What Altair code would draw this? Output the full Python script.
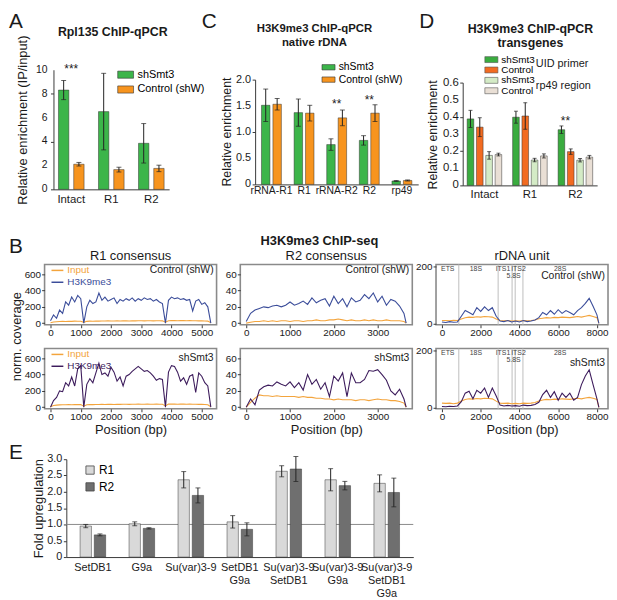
import altair as alt
import pandas as pd

FONT = "Liberation Sans"
INK = "#1a1a1a"
AXC = "#3a3a3a"
INPUT_C = "#f3a43c"

# ---------------- Panel A ----------------
a_groups = ["Intact", "R1", "R2"]
a_series = ["shSmt3", "Control (shW)"]
a_colors = ["#3cb54a", "#f7941e"]
a_shsmt3 = [8.3, 6.5, 3.85]
a_shsmt3_err = [0.8, 3.2, 1.65]
a_control = [2.1, 1.65, 1.75]
a_control_err = [0.15, 0.2, 0.27]
a_yticks = [0, 2, 4, 6, 8, 10]
a_star_group = ["Intact"]
a_star_text = ["***"]
a_star_y = [9.7]

# ---------------- Panel C ----------------
c_groups = ["rRNA-R1", "R1", "rRNA-R2", "R2", "rp49"]
c_series = ["shSmt3", "Control (shW)"]
c_colors = ["#3cb54a", "#f7941e"]
c_shsmt3 = [1.51, 1.37, 0.76, 0.84, 0.065]
c_shsmt3_err = [0.31, 0.26, 0.11, 0.09, 0.01]
c_control = [1.53, 1.36, 1.27, 1.36, 0.075]
c_control_err = [0.11, 0.15, 0.15, 0.16, 0.01]
c_yticks = [0, 0.5, 1.0, 1.5, 2.0]
c_star_group = ["rRNA-R2", "R2"]
c_star_text = ["**", "**"]
c_star_y = [1.46, 1.53]

# ---------------- Panel D ----------------
d_groups = ["Intact", "R1", "R2"]
d_series = ["shSmt3 UID", "Control UID", "shSmt3 rp49", "Control rp49"]
d_colors = ["#3aac3f", "#f26b21", "#d4ebc6", "#e9dfd5"]
d_uid_shsmt3 = [0.388, 0.398, 0.325]
d_uid_shsmt3_err = [0.05, 0.035, 0.022]
d_uid_control = [0.34, 0.405, 0.197]
d_uid_control_err = [0.055, 0.078, 0.016]
d_rp49_shsmt3 = [0.175, 0.148, 0.147]
d_rp49_shsmt3_err = [0.022, 0.01, 0.01]
d_rp49_control = [0.18, 0.172, 0.165]
d_rp49_control_err = [0.008, 0.012, 0.01]
d_yticks = [0, 0.1, 0.2, 0.3, 0.4, 0.5, 0.6]
d_star_group = ["R2"]
d_star_series = ["shSmt3 UID"]
d_star_text = ["**"]
d_star_y = [0.355]
d_legend_notes = ["UID primer", "rp49 region"]

# ---------------- Panel B (ChIP-seq coverage) ----------------
r1_pos = list(range(0, 5400, 100))
r1_ctrl_h3k9 = [30, 100, 60, 160, 120, 260, 220, 320, 260, 340, 300, 0, 200, 280, 240, 260, 370, 280,
                320, 270, 290, 310, 240, 290, 270, 300, 280, 310, 270, 300, 280, 310, 290, 300, 270,
                290, 260, 240, 0, 280, 320, 300, 310, 290, 300, 280, 290, 150, 270, 290, 230, 250, 200, 0]
r1_ctrl_input = [5, 15, 18, 20, 22, 20, 24, 22, 25, 23, 24, 10, 22, 25, 24, 26, 25, 27, 26, 28, 27, 26,
                 28, 27, 29, 28, 27, 29, 28, 30, 29, 28, 30, 29, 28, 30, 29, 28, 12, 30, 32, 31, 30, 32,
                 31, 30, 31, 29, 30, 28, 29, 27, 25, 5]
r1_sh_h3k9 = [0, 80, 120, 200, 190, 300, 260, 370, 260, 470, 510, 0, 280, 350, 300, 420, 540, 400, 420,
              380, 490, 430, 320, 370, 260, 380, 400, 440, 470, 500, 470, 440, 450, 420, 380, 330, 350,
              340, 0, 430, 510, 500, 430, 320, 360, 280, 380, 400, 180, 420, 380, 300, 260, 0]
r1_sh_input = [5, 20, 25, 28, 30, 29, 31, 30, 32, 31, 33, 12, 30, 32, 31, 33, 32, 34, 33, 35, 34, 33, 35,
               34, 36, 35, 34, 36, 35, 37, 36, 35, 37, 36, 35, 37, 36, 35, 15, 37, 38, 37, 36, 38, 37,
               36, 37, 35, 36, 34, 35, 33, 30, 5]

r2_pos = list(range(0, 3700, 100)) + [3650]
r2_ctrl_h3k9 = [2, 12, 16, 18, 20, 19, 21, 22, 20, 22, 26, 22, 24, 27, 23, 31, 25, 28, 30, 21, 33, 24,
                30, 20, 31, 26, 28, 35, 30, 37, 26, 33, 22, 29, 27, 21, 12, 0]
r2_ctrl_input = [0, 1, 2, 2, 3, 2, 3, 2, 3, 3, 2, 3, 3, 2, 3, 3, 4, 3, 3, 4, 4, 5, 4, 3, 4, 3, 3, 4, 3,
                 4, 3, 3, 4, 3, 3, 3, 2, 0]
r2_sh_h3k9 = [0, 10, 3, 21, 25, 27, 26, 31, 28, 26, 31, 24, 30, 21, 40, 28, 34, 22, 30, 13, 38, 32, 42,
              13, 42, 30, 30, 34, 45, 44, 46, 40, 33, 20, 15, 22, 10, 0]
r2_sh_input = [0, 6, 11, 15, 14, 14, 13, 14, 13, 13, 13, 13, 12, 13, 12, 12, 11, 11, 10, 10, 9, 10, 9, 9,
               9, 8, 9, 9, 8, 9, 10, 9, 9, 8, 8, 7, 5, 0]

rd_pos = list(range(0, 8200, 200)) + [8100]
rd_ctrl_h3k9 = [5, 3, 6, 4, 5, 25, 45, 38, 30, 55, 42, 58, 45, 55, 25, 8, 6, 10, 5, 8, 5, 10, 6, 8, 12,
                20, 38, 30, 45, 32, 48, 35, 45, 38, 30, 45, 55, 70, 88, 60, 30, 0]
rd_ctrl_input = [10, 10, 9, 11, 10, 15, 20, 22, 21, 23, 22, 24, 23, 22, 15, 10, 9, 10, 8, 9, 8, 10, 9,
                 10, 12, 16, 18, 20, 19, 21, 20, 22, 21, 20, 22, 24, 22, 25, 28, 24, 20, 0]
rd_sh_h3k9 = [3, 2, 4, 3, 5, 20, 50, 57, 30, 60, 50, 68, 35, 68, 40, 8, 5, 7, 5, 6, 4, 8, 6, 7, 10, 18,
              45, 60, 35, 55, 25, 50, 35, 50, 25, 35, 80, 110, 132, 80, 30, 0]
rd_sh_input = [15, 14, 15, 13, 15, 22, 28, 30, 29, 31, 30, 32, 31, 30, 22, 15, 14, 15, 13, 14, 13, 15,
               14, 15, 17, 22, 26, 28, 27, 29, 28, 30, 29, 28, 30, 32, 30, 33, 35, 32, 28, 0]

rd_bounds = [870, 2900, 3620, 3780, 4180]
rd_labels = ["ETS", "18S", "ITS1", "ITS2", "5.8S", "28S"]
rd_label_pos = [300, 1750, 3150, 3950, 3700, 6100]
rd_label_y = [190, 190, 190, 190, 165, 190]

b_tracks = ["Input", "H3K9me3"]
H3_CTRL = "#3b4d9a"
H3_SH = "#3d1c5c"

# ---------------- Panel E ----------------
e_groups = ["SetDB1", "G9a", "Su(var)3-9", "SetDB1\nG9a", "Su(var)3-9\nSetDB1",
            "Su(var)3-9\nG9a", "Su(var)3-9\nSetDB1\nG9a"]
e_series = ["R1", "R2"]
e_colors = ["#d9d9d9", "#6f6f6f"]
e_r1 = [0.95, 1.02, 2.37, 1.08, 2.63, 2.37, 2.26]
e_r1_err = [0.05, 0.06, 0.25, 0.19, 0.17, 0.34, 0.26]
e_r2 = [0.68, 0.88, 1.89, 0.85, 2.70, 2.19, 1.98]
e_r2_err = [0.03, 0.02, 0.23, 0.2, 0.38, 0.13, 0.44]
e_yticks = [0, 0.5, 1.0, 1.5, 2.0, 2.5, 3.0]
e_baseline = [1.0]

one = pd.DataFrame({"k": [0]})
TOP_H = 160


def tick_text(v):
    return "0" if v == 0 else (f"{v:.1f}" if isinstance(v, float) else str(v))


def grouped(groups, series, means, errs):
    rows = []
    for s, m_list, e_list in zip(series, means, errs):
        for g, m, e in zip(groups, m_list, e_list):
            rows.append({"group": g, "series": s, "value": m, "lo": m - e, "hi": m + e})
    return pd.DataFrame(rows)


def label(text, x, y, size, weight="normal", align="left", baseline="alphabetic",
          angle=0, color=INK, line_height=0):
    kw = dict(text=text, fontSize=size, fontWeight=weight, align=align, baseline=baseline,
              color=color, font=FONT)
    if angle:
        kw["angle"] = angle
    if line_height:
        kw["lineHeight"] = line_height
    return alt.Chart(one).mark_text(**kw).encode(x=alt.value(x), y=alt.value(y))


def y_axis(ticks, offset=0):
    return alt.Axis(values=ticks, title=None, labels=False, tickSize=3, domainColor=AXC,
                    tickColor=AXC, grid=False, offset=offset)


def x_axis(size, pad, offset=0, expr=None, lh=0):
    kw = dict(title=None, ticks=False, labelAngle=0, labelFontSize=size, labelPadding=pad,
              domainColor=AXC, labelColor=INK, labelOverlap=False, offset=offset)
    if expr:
        kw["labelExpr"] = expr
    if lh:
        kw["labelLineHeight"] = lh
    return alt.Axis(**kw)


def bar_layers(df, groups, series, colors, x_range, x_pi, x_po, off_pi, y_scale, y_ax,
               legend, cap, x_ax, ticks, tick_x, tick_size, bar_stroke="#2b2b2b"):
    x = alt.X("group:N", sort=groups,
              scale=alt.Scale(range=x_range, paddingInner=x_pi, paddingOuter=x_po), axis=x_ax)
    xo = alt.XOffset("series:N", sort=series,
                     scale=alt.Scale(paddingInner=off_pi, paddingOuter=0))
    base = alt.Chart(df).encode(x=x, xOffset=xo)
    bars = base.mark_bar(stroke=bar_stroke, strokeWidth=0.6, strokeOpacity=0.8).encode(
        y=alt.Y("value:Q", scale=y_scale, axis=y_ax),
        color=alt.Color("series:N", sort=series,
                        scale=alt.Scale(domain=series, range=colors), legend=legend))
    err = base.mark_rule(color="#222", strokeWidth=1).encode(
        y=alt.Y("lo:Q", axis=y_ax), y2="hi:Q")
    lo = base.mark_tick(orient="horizontal", size=cap, thickness=1, color="#222").encode(
        y=alt.Y("lo:Q", axis=y_ax))
    hi = base.mark_tick(orient="horizontal", size=cap, thickness=1, color="#222").encode(
        y=alt.Y("hi:Q", axis=y_ax))
    tdf = pd.DataFrame({"value": ticks, "t": [tick_text(v) for v in ticks]})
    tlab = alt.Chart(tdf).mark_text(align="right", baseline="middle", fontSize=tick_size,
                                    font=FONT, color=INK).encode(
        y=alt.Y("value:Q", axis=y_ax), x=alt.value(tick_x), text="t:N")
    return [bars, err, lo, hi, tlab]


# ================= A =================
a_df = grouped(a_groups, a_series, [a_shsmt3, a_control], [a_shsmt3_err, a_control_err])
a_leg = alt.Legend(title=None, orient="none", legendX=76.5, legendY=-1.5,
                   symbolType="M-2,-0.9H2V0.9H-2Z", symbolSize=64, labelFontSize=11,
                   labelFont=FONT, rowPadding=3, padding=0, labelOffset=6.5,
                   symbolStrokeColor="#333", symbolStrokeWidth=0.6)
a_layers = bar_layers(a_df, a_groups, a_series, a_colors, [9, 126], 0.36, 0.125, 0.32,
                      alt.Scale(domain=[0, 10], range=[120, -1], nice=False),
                      y_axis(a_yticks, offset=-9), a_leg, 5,
                      x_axis(11.5, 4, offset=-(TOP_H - 120)), a_yticks, 3, 10.5)
a_stars = alt.Chart(pd.DataFrame({"group": a_star_group, "y": a_star_y, "t": a_star_text})).mark_text(
    fontSize=12, font=FONT, baseline="alphabetic", color=INK).encode(
    x=alt.X("group:N", sort=a_groups), y="y:Q", text="t:N")
A = alt.layer(*a_layers, a_stars,
              label("A", -36, -43, 21),
              label("Rpl135 ChIP-qPCR", 69, -35, 12.5, weight="bold", align="center"),
              label("Relative enrichment (IP/input)", -21.5, 50, 13, align="center",
                    baseline="middle", angle=270),
              ).properties(width=189, height=TOP_H)

# ================= C =================
c_df = grouped(c_groups, c_series, [c_shsmt3, c_control], [c_shsmt3_err, c_control_err])
c_leg = alt.Legend(title=None, orient="none", legendX=69, legendY=-8.75,
                   symbolType="M-2.2,-0.9H2.2V0.9H-2.2Z", symbolSize=36, labelFontSize=10.5,
                   labelFont=FONT, rowPadding=1.5, padding=0, labelOffset=5,
                   symbolStrokeColor="#333", symbolStrokeWidth=0.6)
c_layers = bar_layers(c_df, c_groups, c_series, c_colors, [0, 165], 0.39, 0.195, 0.26,
                      alt.Scale(domain=[0, 2.0], range=[115, 9], nice=False),
                      y_axis(c_yticks), c_leg, 5, x_axis(10.5, 1, offset=-(TOP_H - 115)),
                      c_yticks, -4, 11)
c_stars = alt.Chart(pd.DataFrame({"group": c_star_group, "y": c_star_y, "t": c_star_text})).mark_text(
    fontSize=12, font=FONT, baseline="alphabetic", color=INK).encode(
    x=alt.X("group:N", sort=c_groups), y="y:Q", text="t:N")
C = alt.layer(*c_layers, c_stars,
              label("C", -54, -43, 21),
              label(["H3K9me3 ChIP-qPCR", "native rDNA"], 60, -39, 11.5, weight="bold",
                    align="center", line_height=13.5),
              label("Relative enrichment", -28, 62, 12.5, align="center",
                    baseline="middle", angle=270),
              ).properties(width=186, height=TOP_H)

# ================= D =================
d_df = grouped(d_groups, d_series,
               [d_uid_shsmt3, d_uid_control, d_rp49_shsmt3, d_rp49_control],
               [d_uid_shsmt3_err, d_uid_control_err, d_rp49_shsmt3_err, d_rp49_control_err])
d_leg = alt.Legend(title=None, orient="none", legendX=24, legendY=-16.25,
                   symbolType="M-2.2,-1H2.2V1H-2.2Z", symbolSize=36, labelFontSize=10,
                   labelFont=FONT, rowPadding=0.5, padding=0, labelOffset=5,
                   labelExpr="split(datum.label, ' ')[0]",
                   symbolStrokeColor="#555", symbolStrokeWidth=0.6)
d_layers = bar_layers(d_df, d_groups, d_series, d_colors, [0, 136], 0.24, 0.098, 0.29,
                      alt.Scale(domain=[0, 0.6], range=[116, 12], nice=False),
                      y_axis(d_yticks), d_leg, 4, x_axis(11.5, 3, offset=-(TOP_H - 116)),
                      d_yticks, -4, 11.5)
d_stars = alt.Chart(pd.DataFrame({"group": d_star_group, "series": d_star_series,
                                  "y": d_star_y, "t": d_star_text})).mark_text(
    fontSize=12, font=FONT, baseline="alphabetic", color=INK, dx=4).encode(
    x=alt.X("group:N", sort=d_groups), xOffset=alt.XOffset("series:N", sort=d_series),
    y="y:Q", text="t:N")
D = alt.layer(*d_layers, d_stars,
              label("D", -44, -43, 21),
              label(["H3K9me3 ChIP-qPCR", "transgenes"], 68.5, -38, 12.5, weight="bold",
                    align="center", line_height=13.5),
              label(d_legend_notes[0], 74, -6.5, 11, baseline="middle"),
              label(d_legend_notes[1], 74, 15.5, 11, baseline="middle"),
              label("Relative enrichment", -30, 65, 12.5, align="center",
                    baseline="middle", angle=270),
              ).properties(width=136, height=TOP_H)

top = alt.hconcat(A, C, D, spacing=24, bounds="flush").resolve_scale(
    color="independent", xOffset="independent", x="independent", y="independent")


# ================= B =================
def cov_panel(pos, input_vals, h3_vals, h3_color, x_dom, x_ticks, y_dom, y_ticks,
              show_x_title, show_legend, extras):
    rows = []
    for name, vals in [("Input", input_vals), ("H3K9me3", h3_vals)]:
        for p, v in zip(pos, vals):
            rows.append({"pos": p, "cov": v, "track": name})
    df = pd.DataFrame(rows)
    if show_legend:
        leg = alt.Legend(title=None, orient="none", legendX=6, legendY=-1,
                         symbolType="stroke", symbolSize=144, symbolStrokeWidth=1.5,
                         labelFontSize=10, labelFont=FONT, rowPadding=-4, padding=0,
                         labelOffset=3,
                         labelColor={"expr": f"datum.value == 'Input' ? '{INPUT_C}' : '{h3_color}'"})
    else:
        leg = None
    xkw = dict(values=x_ticks, format="d", labelFontSize=10, tickSize=3, labelPadding=0,
               domain=False, labelFlush=False, labelOverlap=False, tickColor=AXC,
               labelColor=INK, grid=False)
    if show_x_title:
        xkw.update(title="Position (bp)", titleFontSize=13, titleFontWeight="normal",
                   titlePadding=2, titleColor=INK)
    else:
        xkw["title"] = None
    lines = alt.Chart(df).mark_line(strokeWidth=1.1).encode(
        x=alt.X("pos:Q", scale=alt.Scale(domain=x_dom, nice=False, zero=False),
                axis=alt.Axis(**xkw)),
        y=alt.Y("cov:Q", scale=alt.Scale(domain=y_dom, nice=False, zero=False),
                axis=alt.Axis(values=y_ticks, title=None, labelFontSize=10, tickSize=3,
                              labelPadding=1, domain=False, labelFlush=False,
                              labelOverlap=False, tickColor=AXC, labelColor=INK, grid=False)),
        color=alt.Color("track:N", scale=alt.Scale(domain=b_tracks, range=[INPUT_C, h3_color]),
                        legend=leg),
    )
    return alt.layer(*extras[0], lines, *extras[1]).properties(
        width=174, height=61, view=alt.ViewBackground(stroke="#8a8a8a", strokeWidth=1.6))


R1_DOM = [-196, 5490]
R2_DOM = [-135, 3790]
RD_DOM = [-306, 8571]
R1_X = [0, 1000, 2000, 3000, 4000, 5000]
R2_X = [0, 1000, 2000, 3000]
RD_X = [0, 2000, 4000, 6000, 8000]


def rdna_marks():
    rules = alt.Chart(pd.DataFrame({"pos": rd_bounds})).mark_rule(
        color="#bdbdbd", strokeWidth=1).encode(x="pos:Q")
    texts = alt.Chart(pd.DataFrame({"pos": rd_label_pos, "y": rd_label_y, "t": rd_labels})).mark_text(
        fontSize=7, font=FONT, color="#444", baseline="middle").encode(x="pos:Q", y="y:Q", text="t:N")
    return rules, texts


rr1, rt1 = rdna_marks()
rr2, rt2 = rdna_marks()

b1 = cov_panel(r1_pos, r1_ctrl_input, r1_ctrl_h3k9, H3_CTRL, R1_DOM, R1_X, [-20, 720],
               [0, 200, 400, 600], False, True,
               ([], [label("B", -36, -12, 21),
                     label("R1 consensus", 87, -5, 13, align="center"),
                     label("norm. coverage", -28, 73, 13, align="center", baseline="middle", angle=270),
                     label("Control (shW)", 171, 9, 10.5, align="right")]))
b2 = cov_panel(r2_pos, r2_ctrl_input, r2_ctrl_h3k9, H3_CTRL, R2_DOM, R2_X, [-2, 72],
               [0, 20, 40, 60], False, False,
               ([], [label("H3K9me3 ChIP-seq", 80, -19.5, 13, weight="bold", align="center"),
                     label("R2 consensus", 87, -5, 13, align="center"),
                     label("Control (shW)", 171, 9, 10.5, align="right")]))
b3 = cov_panel(rd_pos, rd_ctrl_input, rd_ctrl_h3k9, H3_CTRL, RD_DOM, RD_X, [-5, 207],
               [0, 100, 200], False, False,
               ([rr1], [rt1, label("rDNA unit", 87, -5, 13, align="center"),
                        label("Control (shW)", 171, 15, 10.5, align="right")]))
b4 = cov_panel(r1_pos, r1_sh_input, r1_sh_h3k9, H3_SH, R1_DOM, R1_X, [-20, 720],
               [0, 200, 400, 600], True, True,
               ([], [label("shSmt3", 171, 13, 10.5, align="right")]))
b5 = cov_panel(r2_pos, r2_sh_input, r2_sh_h3k9, H3_SH, R2_DOM, R2_X, [-2, 72],
               [0, 20, 40, 60], True, False,
               ([], [label("shSmt3", 171, 13, 10.5, align="right")]))
b6 = cov_panel(rd_pos, rd_sh_input, rd_sh_h3k9, H3_SH, RD_DOM, RD_X, [-5, 207],
               [0, 100, 200], True, False,
               ([rr2], [rt2, label("shSmt3", 171, 18, 10.5, align="right")]))

B = alt.concat(b1, b2, b3, b4, b5, b6, columns=3, spacing=24, bounds="flush").resolve_scale(
    color="independent", x="independent", y="independent")

# ================= E =================
E_X0, E_X1 = 22, 373
E_TOP, E_BOT = 12, 111
e_df = grouped(e_groups, e_series, [e_r1, e_r2], [e_r1_err, e_r2_err])
e_leg = alt.Legend(title=None, orient="none", legendX=40, legendY=17, symbolType="square",
                   symbolSize=70, labelFontSize=12, labelFont=FONT, rowPadding=5, padding=0,
                   labelOffset=3, symbolStrokeColor="#444", symbolStrokeWidth=0.8)
e_ax = y_axis(e_yticks, offset=-E_X0)
e_ref = alt.Chart(pd.DataFrame({"y": e_baseline})).mark_rule(color="#8a8a8a", strokeWidth=1).encode(
    y=alt.Y("y:Q", scale=alt.Scale(domain=[0, 3.0], range=[E_BOT, E_TOP], nice=False), axis=e_ax),
    x=alt.value(E_X0), x2=alt.value(E_X1))
e_layers = bar_layers(e_df, e_groups, e_series, e_colors, [E_X0, E_X1], 0.478, 0.281, 0.2,
                      alt.Scale(domain=[0, 3.0], range=[E_BOT, E_TOP], nice=False),
                      e_ax, e_leg, 5, x_axis(11, 5, 0, "split(datum.label, '\\n')", 13),
                      e_yticks, E_X0 - 4, 11, bar_stroke="#333")
E = alt.layer(e_ref, *e_layers, label("E", -36, E_TOP, 21),
              label("Fold upregulation", -6, 62, 13, align="center", baseline="middle", angle=270),
              ).properties(width=E_X1, height=E_BOT)

chart = alt.vconcat(top, B, E, spacing=5).resolve_scale(
    color="independent", xOffset="independent", x="independent", y="independent"
).properties(padding=0).configure(font=FONT).configure_view(stroke=None).configure_axis(
    labelFont=FONT, titleFont=FONT, grid=False, labelOverlap=False).configure_legend(labelFont=FONT)

chart.save("out.html", embed_options={"renderer": "svg", "actions": False})
